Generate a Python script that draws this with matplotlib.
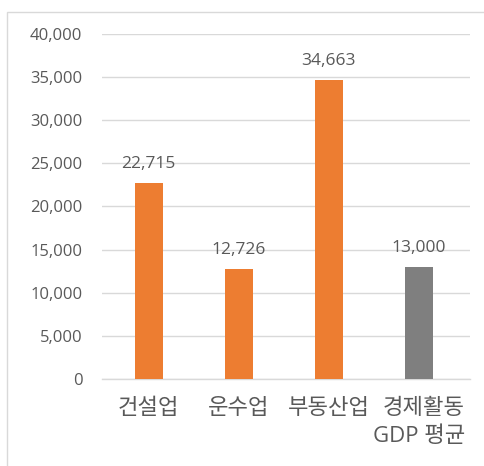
import matplotlib
matplotlib.use('Agg')
import matplotlib.pyplot as plt
from matplotlib.patches import Rectangle
from matplotlib.ticker import FuncFormatter, MultipleLocator

plt.rcParams['font.family'] = ['Open Sans', 'Noto Sans CJK KR', 'DejaVu Sans']

# --- Data ---
categories = ['건설업', '운수업', '부동산업', '경제활동\nGDP 평균']
values = [22715, 12726, 34663, 13000]
bar_colors = ['#ED7D31', '#ED7D31', '#ED7D31', '#7F7F7F']

TEXT_COLOR = '#595959'
GRID_COLOR = '#D9D9D9'

fig = plt.figure(figsize=(4.85, 4.66), dpi=100)
ax = fig.add_axes([0.210, 0.187, 0.759, 0.740])

x = range(len(categories))
bars = ax.bar(x, values, width=0.31, color=bar_colors, zorder=3)

# value labels above each bar
for rect, v in zip(bars, values):
    ax.annotate(f'{v:,}', (rect.get_x() + rect.get_width() / 2, v),
                xytext=(0, 8), textcoords='offset points',
                ha='center', va='bottom', fontsize=12.5, color=TEXT_COLOR)

ax.set_ylim(0, 40000)
ax.set_xlim(-0.52, 3.57)
ax.yaxis.set_major_locator(MultipleLocator(5000))
ax.yaxis.set_major_formatter(FuncFormatter(lambda v, p: f'{int(v):,}'))
ax.grid(axis='y', color=GRID_COLOR, linewidth=1, zorder=0)

for side in ['top', 'right', 'left']:
    ax.spines[side].set_visible(False)
ax.spines['bottom'].set_color(GRID_COLOR)
ax.spines['bottom'].set_linewidth(1)

ax.tick_params(axis='both', length=0, colors=TEXT_COLOR)
ax.tick_params(axis='y', labelsize=12, pad=14)
ax.set_xticks(list(x))
ax.set_xticklabels(categories, fontsize=16, color=TEXT_COLOR,
                   linespacing=1.4, multialignment='right')
ax.tick_params(axis='x', pad=14)

# chart area border
fig.patches.append(Rectangle((7 / 485, -0.01), 1.0, 1 - 12 / 466 + 0.01,
                             transform=fig.transFigure, fill=False,
                             edgecolor='#D9D9D9', linewidth=1))

fig.savefig('out.png', dpi=100)
